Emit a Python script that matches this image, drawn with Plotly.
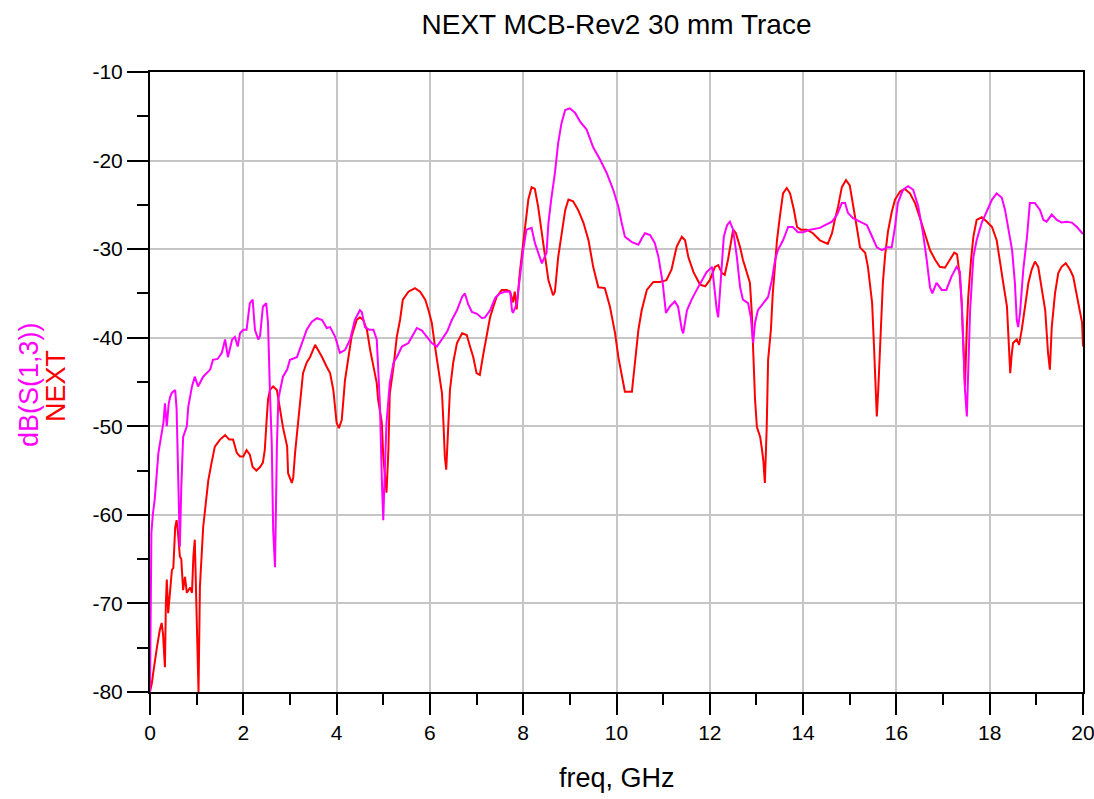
import plotly.graph_objects as go

# ---------------- data ----------------
freq_s13 = [0, 0.01, 0.03, 0.06, 0.1, 0.18, 0.25, 0.29, 0.32, 0.36, 0.4, 0.43, 0.47, 0.54, 0.57, 0.6, 0.64, 0.67, 0.71, 0.79,
            0.82, 0.9, 0.96, 1.03, 1.14, 1.29, 1.35, 1.45, 1.54, 1.61, 1.67, 1.76, 1.82, 1.88, 1.93, 2.0, 2.07, 2.14, 2.2, 2.25,
            2.32, 2.36, 2.42, 2.49, 2.53, 2.57, 2.61, 2.64, 2.68, 2.72, 2.75, 2.79, 2.85, 2.94, 3.0, 3.15, 3.2, 3.28, 3.36, 3.47,
            3.58, 3.69, 3.79, 3.86, 3.97, 4.07, 4.18, 4.29, 4.39, 4.5, 4.54, 4.61, 4.7, 4.79, 4.86, 4.89, 4.93, 4.97, 5.0, 5.04,
            5.07, 5.14, 5.22, 5.29, 5.4, 5.54, 5.65, 5.72, 5.83, 5.94, 6.04, 6.15, 6.26, 6.37, 6.47, 6.58, 6.69, 6.75, 6.82, 6.9,
            7.01, 7.12, 7.18, 7.29, 7.4, 7.5, 7.61, 7.72, 7.76, 7.78, 7.86, 7.93, 8.0, 8.07, 8.18, 8.25, 8.32, 8.4, 8.5, 8.54,
            8.6, 8.68, 8.75, 8.82, 8.9, 9.0, 9.11, 9.22, 9.36, 9.5, 9.65, 9.79, 9.93, 10.04, 10.11, 10.18, 10.33, 10.47, 10.54, 10.61,
            10.72, 10.82, 10.9, 10.99, 11.06, 11.14, 11.25, 11.32, 11.4, 11.43, 11.51, 11.61, 11.72, 11.83, 11.93, 12.05, 12.1, 12.15, 12.18, 12.22,
            12.26, 12.3, 12.37, 12.43, 12.5, 12.58, 12.65, 12.71, 12.82, 12.88, 12.93, 12.97, 13.03, 13.14, 13.25, 13.33, 13.4, 13.46, 13.57, 13.68,
            13.78, 13.89, 14.0, 14.15, 14.36, 14.47, 14.62, 14.73, 14.83, 14.9, 14.96, 15.07, 15.22, 15.37, 15.48, 15.58, 15.69, 15.8, 15.9, 15.97,
            16.03, 16.14, 16.25, 16.36, 16.47, 16.57, 16.65, 16.72, 16.77, 16.86, 16.97, 17.07, 17.18, 17.29, 17.36, 17.4, 17.44, 17.47, 17.51, 17.54,
            17.58, 17.65, 17.72, 17.83, 17.94, 18.05, 18.15, 18.26, 18.33, 18.4, 18.48, 18.54, 18.58, 18.61, 18.65, 18.72, 18.8, 18.86, 18.97, 19.08,
            19.15, 19.22, 19.33, 19.44, 19.54, 19.65, 19.76, 19.87, 20.0]
db_s13 = [-80, -73, -62, -60, -58.3, -53, -50.7, -49.5, -47.4, -50, -47.5, -46.7, -46.2, -45.9, -48, -55, -63.6, -57, -51.2, -50,
          -47.8, -45.5, -44.4, -45.5, -44.4, -43.6, -42.5, -42.4, -41.7, -40.2, -42.2, -40.2, -39.9, -41, -39.5, -39.1, -39.1, -36.1, -35.7, -39.1,
          -40.2, -39.8, -36.5, -36.1, -38.3, -45.9, -52, -61.7, -65.9, -52.3, -47, -45.9, -44.4, -43.6, -42.5, -42.2, -41.4, -40.2, -39.1, -38.2,
          -37.8, -38, -38.9, -38.8, -39.9, -41.7, -41.4, -40.2, -38, -36.9, -37.1, -38.8, -39.1, -39.1, -40.2, -43.3, -47.8, -56.1, -60.6, -54,
          -49.6, -45.1, -42.8, -42.2, -41, -40.6, -39.5, -38.9, -39.2, -39.9, -40.6, -41, -40.2, -39.3, -38, -36.9, -35.4, -35, -36.2, -37.1,
          -37.3, -37.8, -37.7, -36.9, -35.5, -35, -34.8, -34.8, -36.9, -37.2, -36.2, -33.1, -30.1, -27.8, -27.6, -29.3, -30.3, -31.6, -30.4, -27.1,
          -24.4, -21.4, -18, -15.8, -14.3, -14.1, -14.6, -15.6, -16.5, -18.5, -19.9, -21.4, -23.3, -25.2, -27, -28.6, -29.2, -29.5, -28.8, -28.2,
          -28.4, -29.3, -30.9, -33.8, -37.2, -36.5, -35.9, -36.5, -39.1, -39.5, -36.9, -35.7, -34.6, -33.5, -32.6, -32, -34.5, -36.9, -37.7, -35,
          -32, -28.6, -27.3, -26.9, -27.8, -30.9, -34.3, -35.7, -36.1, -37.7, -40.6, -38.3, -36.9, -36.1, -35.4, -33.5, -31.2, -30.1, -29, -27.5,
          -27.5, -28.1, -28.1, -27.8, -27.6, -27.3, -26.9, -26.1, -24.8, -24.8, -25.9, -26.5, -26.9, -27.3, -28.6, -29.8, -30.1, -29.8, -29.8, -27.5,
          -24.8, -23.3, -22.9, -23.3, -25.2, -28.2, -31.2, -34.3, -35, -33.8, -34.6, -34.6, -33.1, -32, -32.5, -36.1, -41.7, -45.9, -48.9, -44,
          -36.9, -30.9, -29, -27, -25.6, -24.4, -23.7, -24.2, -25.6, -27.5, -30.1, -33.8, -38, -38.8, -37.2, -32.3, -28.6, -24.8, -24.8, -25.6,
          -26.7, -26.9, -26.1, -26.7, -27, -26.9, -27, -27.5, -28.3]

freq_next = [0, 0.04, 0.07, 0.11, 0.15, 0.21, 0.25, 0.28, 0.32, 0.34, 0.36, 0.39, 0.43, 0.47, 0.5, 0.54, 0.57, 0.6, 0.64, 0.67,
             0.71, 0.75, 0.79, 0.86, 0.9, 0.93, 0.96, 1.0, 1.04, 1.07, 1.11, 1.14, 1.21, 1.25, 1.32, 1.39, 1.5, 1.61, 1.7, 1.78,
             1.86, 1.93, 2.0, 2.07, 2.14, 2.2, 2.28, 2.36, 2.42, 2.46, 2.5, 2.53, 2.57, 2.64, 2.72, 2.79, 2.85, 2.94, 2.96, 3.04,
             3.07, 3.11, 3.18, 3.22, 3.28, 3.36, 3.43, 3.54, 3.61, 3.69, 3.79, 3.86, 3.93, 4.0, 4.05, 4.11, 4.18, 4.25, 4.32, 4.43,
             4.5, 4.57, 4.65, 4.72, 4.79, 4.86, 4.89, 4.97, 5.0, 5.04, 5.07, 5.11, 5.14, 5.22, 5.29, 5.36, 5.42, 5.54, 5.68, 5.79,
             5.9, 5.97, 6.04, 6.11, 6.18, 6.26, 6.29, 6.32, 6.35, 6.39, 6.43, 6.5, 6.58, 6.69, 6.79, 6.86, 6.93, 7.0, 7.07, 7.15,
             7.22, 7.29, 7.36, 7.43, 7.54, 7.65, 7.72, 7.78, 7.82, 7.86, 7.93, 8.0, 8.04, 8.11, 8.18, 8.25, 8.32, 8.4, 8.47, 8.54,
             8.64, 8.68, 8.75, 8.82, 8.9, 8.97, 9.07, 9.18, 9.29, 9.4, 9.5, 9.61, 9.75, 9.86, 9.97, 10.04, 10.11, 10.18, 10.33, 10.4,
             10.47, 10.54, 10.65, 10.79, 10.93, 11.07, 11.18, 11.29, 11.4, 11.47, 11.54, 11.65, 11.79, 11.9, 12.0, 12.11, 12.18, 12.26, 12.32, 12.39,
             12.47, 12.5, 12.56, 12.65, 12.71, 12.8, 12.86, 12.9, 12.93, 12.97, 13.01, 13.08, 13.12, 13.15, 13.18, 13.22, 13.25, 13.31, 13.35, 13.44,
             13.5, 13.57, 13.65, 13.72, 13.8, 13.87, 13.95, 14.08, 14.21, 14.36, 14.53, 14.62, 14.68, 14.75, 14.83, 14.92, 15.0, 15.07, 15.15, 15.22,
             15.33, 15.39, 15.48, 15.52, 15.58, 15.61, 15.65, 15.71, 15.76, 15.82, 15.9, 15.97, 16.08, 16.18, 16.29, 16.4, 16.5, 16.61, 16.72, 16.83,
             16.93, 17.04, 17.15, 17.24, 17.3, 17.36, 17.4, 17.44, 17.47, 17.51, 17.54, 17.6, 17.65, 17.72, 17.83, 17.94, 18.05, 18.15, 18.22, 18.29,
             18.37, 18.4, 18.44, 18.47, 18.5, 18.58, 18.63, 18.69, 18.76, 18.83, 18.9, 18.97, 19.04, 19.11, 19.19, 19.25, 19.29, 19.33, 19.4, 19.47,
             19.54, 19.63, 19.72, 19.79, 19.86, 19.92, 19.98, 20.0]
db_next = [-80, -79, -77.8, -76, -74.9, -73, -72.2, -73.5, -77.2, -70, -67.3, -71.1, -68.5, -66.2, -66, -61.4, -60.6, -62, -64.7, -65,
           -68.5, -67, -68.8, -68.2, -68.8, -64.7, -62.8, -73, -80, -68.1, -64.3, -61.4, -58, -56.1, -54.1, -52.3, -51.5, -51, -51.5, -51.5,
           -53, -53.4, -53.4, -52.7, -53.2, -54.6, -55, -54.6, -54.1, -52.7, -49.3, -47, -45.9, -45.5, -45.9, -48.1, -50.1, -52.3, -55.3, -56.4,
           -55.8, -53, -49.3, -46.7, -44, -42.8, -42.2, -40.8, -41.4, -42.2, -43.3, -44, -45.9, -49.6, -50.2, -49.3, -44.8, -42.2, -39.9, -38,
           -37.7, -38, -39.1, -41.4, -43.3, -45.1, -47, -49.6, -53.4, -56.4, -57.5, -52.7, -46.3, -43.3, -39.9, -38, -35.7, -34.8, -34.4, -34.8,
           -35.7, -36.9, -38.3, -41, -43.3, -46.3, -49.6, -53.4, -54.9, -49.6, -45.9, -42.8, -40.6, -39.5, -39.7, -41, -42.2, -44, -44.2, -41.7,
           -39.5, -37.7, -36.5, -35.4, -34.6, -34.6, -34.8, -36, -34.8, -36.8, -32.5, -29.5, -27.8, -24.4, -23, -23.2, -25.2, -28.2, -30.9, -33.5,
           -35.2, -34.8, -30.9, -28.2, -25.6, -24.4, -24.6, -25.6, -27, -29, -32, -34.3, -34.4, -36.5, -39.5, -42.2, -44.4, -46.1, -46.1, -42.8,
           -39.1, -36.9, -34.6, -33.7, -33.7, -33.5, -32.3, -29.7, -28.6, -29, -30.9, -32.6, -34, -34.2, -33.5, -32, -31.8, -32.7, -32.9, -31.2,
           -29, -27.8, -28.2, -29.8, -31.2, -32.7, -33.8, -37.2, -42.2, -47, -50.1, -51.2, -52.7, -54, -56.4, -50.1, -42.5, -39.1, -35, -29,
           -26.4, -23.7, -23.1, -23.7, -25.5, -27.5, -27.8, -27.8, -28.2, -29, -29.4, -28.2, -26.7, -25.2, -23, -22.2, -22.8, -24.8, -27.5, -29.8,
           -30.4, -32, -36.1, -41, -48.9, -46, -40.4, -33.8, -30.6, -28, -25.8, -24.4, -23.5, -23.2, -23.7, -24.8, -26.4, -28.2, -30.1, -31.2,
           -32, -32.1, -31.2, -30.4, -30.6, -33.1, -36.1, -41.7, -45.5, -38.8, -35.4, -31.2, -28.6, -26.7, -26.4, -26.9, -27.5, -29, -31.2, -33.8,
           -36.5, -39.5, -44, -42, -40.6, -40.2, -40.8, -39, -36.5, -33.8, -32.3, -31.4, -32, -34.3, -36.9, -41.7, -43.6, -38.8, -35, -32.7,
           -32, -31.6, -32.3, -33.1, -35, -36.9, -38.3, -41]

x_ticks = [0, 2, 4, 6, 8, 10, 12, 14, 16, 18, 20]
x_tick_labels = ["0", "2", "4", "6", "8", "10", "12", "14", "16", "18", "20"]
x_minor = [1, 3, 5, 7, 9, 11, 13, 15, 17, 19]
y_ticks = [-80, -70, -60, -50, -40, -30, -20, -10]
y_tick_labels = ["-80", "-70", "-60", "-50", "-40", "-30", "-20", "-10"]
y_minor = [-75, -65, -55, -45, -35, -25, -15]

title_text = "NEXT MCB-Rev2 30 mm Trace"
x_label = "freq, GHz"
y_label_1 = "dB(S(1,3))"
y_label_2 = "NEXT"

# ---------------- figure ----------------
FONT = "Liberation Sans, Arial, sans-serif"
W, H = 1094, 799
L, R, T, B = 150, 11, 72, 107
PW, PH = W - L - R, H - T - B

fig = go.Figure()
fig.add_trace(go.Scatter(x=freq_next, y=db_next, mode="lines", name=y_label_2,
                         line=dict(color="#ff0000", width=2)))
fig.add_trace(go.Scatter(x=freq_s13, y=db_s13, mode="lines", name=y_label_1,
                         line=dict(color="#ff00ff", width=2)))

axis_common = dict(
    showline=True, linecolor="black", linewidth=2, mirror=True,
    ticks="outside", ticklen=21, tickwidth=2, tickcolor="black",
    showgrid=True, gridcolor="#c6c6c6", gridwidth=2, zeroline=False,
    automargin=False, ticklabeloverflow="allow",
    tickfont=dict(family=FONT, size=21, color="black"),
)

fig.update_layout(
    width=W, height=H,
    margin=dict(l=L, r=R, t=T, b=B, autoexpand=False),
    paper_bgcolor="white", plot_bgcolor="white",
    showlegend=False,
    title=dict(text=title_text, x=0.5, xref="paper", xanchor="center",
               y=1 - 24 / H, yref="container", yanchor="middle",
               font=dict(family=FONT, size=28, color="black")),
    xaxis=dict(range=[0, 20], tickvals=x_ticks, ticktext=x_tick_labels,
               minor=dict(tickvals=x_minor, ticks="outside", ticklen=11, tickwidth=2,
                          tickcolor="black", showgrid=False),
               **axis_common),
    yaxis=dict(range=[-80, -10], tickvals=y_ticks, ticktext=y_tick_labels,
               minor=dict(tickvals=y_minor, ticks="outside", ticklen=11, tickwidth=2,
                          tickcolor="black", showgrid=False),
               **axis_common),
)

fig.add_annotation(text=x_label, xref="paper", yref="paper",
                   x=(617 - L) / PW, y=-(778 - (T + PH)) / PH,
                   xanchor="center", yanchor="middle", showarrow=False,
                   font=dict(family=FONT, size=27, color="black"))
fig.add_annotation(text=y_label_1, xref="paper", yref="paper",
                   x=(29 - L) / PW, y=((T + PH) - 385) / PH, textangle=-90,
                   xanchor="center", yanchor="middle", showarrow=False,
                   font=dict(family=FONT, size=27, color="#ff00ff"))
fig.add_annotation(text=y_label_2, xref="paper", yref="paper",
                   x=(56 - L) / PW, y=((T + PH) - 386) / PH, textangle=-90,
                   xanchor="center", yanchor="middle", showarrow=False,
                   font=dict(family=FONT, size=27, color="#ff0000"))

fig.write_html("out.html")
